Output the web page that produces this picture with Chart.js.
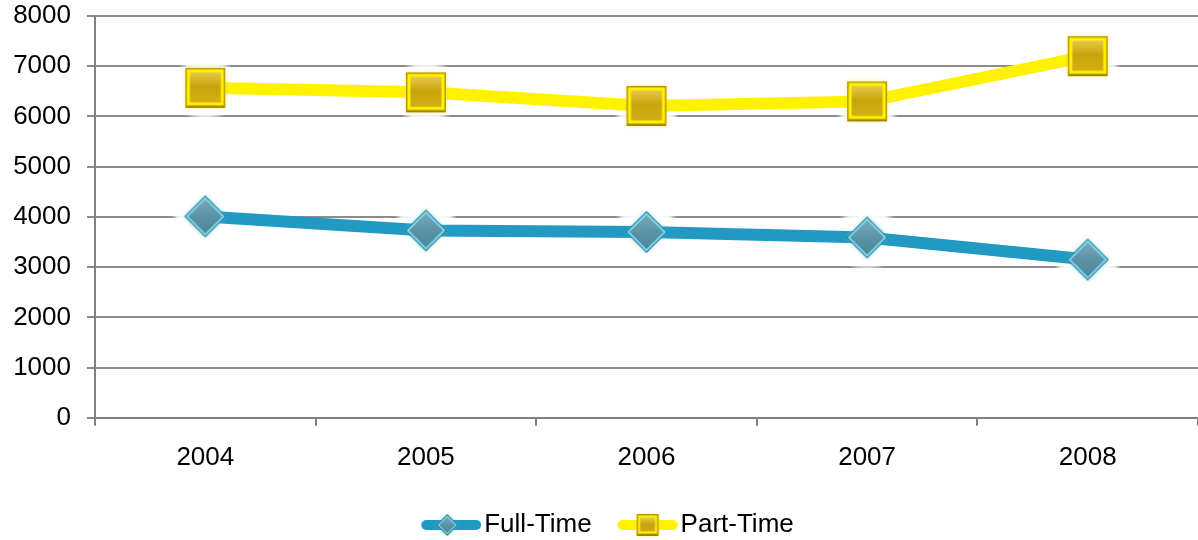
<!DOCTYPE html>
<html>
<head>
<meta charset="utf-8">
<script src="https://cdn.jsdelivr.net/npm/chart.js@4"></script>
<style>
  html, body { margin: 0; padding: 0; background: #ffffff; }
  #wrap { width: 1198px; height: 540px; position: relative; }
</style>
</head>
<body>
<div id="wrap"><canvas id="c"></canvas></div>
<script>
const years = ['2004', '2005', '2006', '2007', '2008'];
const fullTime = [4010, 3730, 3700, 3590, 3150];
const partTime = [6570, 6480, 6210, 6300, 7200];
const yTicks = [0, 1000, 2000, 3000, 4000, 5000, 6000, 7000, 8000];

const FONT = '"Liberation Sans", Arial, sans-serif';
const BLUE = '#2199c3';
const YELLOW = '#fff200';

function makeDiamond(withLine) {
  const w = withLine ? 87 : 48, h = 48;
  const c = document.createElement('canvas');
  c.width = w; c.height = h;
  const g = c.getContext('2d');
  const cx = withLine ? 53 : 24, cy = 24, r = withLine ? 11 : 21;
  if (withLine) {
    g.strokeStyle = BLUE; g.lineWidth = 10; g.lineCap = 'round';
    g.beginPath(); g.moveTo(32, cy); g.lineTo(82, cy); g.stroke();
  }
  g.save();
  g.shadowColor = 'rgba(90,200,230,0.55)'; g.shadowBlur = 4;
  g.beginPath();
  g.moveTo(cx, cy - r); g.lineTo(cx + r, cy); g.lineTo(cx, cy + r); g.lineTo(cx - r, cy); g.closePath();
  g.fillStyle = '#2d7c92'; g.fill();
  g.restore();
  const r2 = r - 1.5;
  g.beginPath();
  g.moveTo(cx, cy - r2); g.lineTo(cx + r2, cy); g.lineTo(cx, cy + r2); g.lineTo(cx - r2, cy); g.closePath();
  g.fillStyle = '#7fdcf2'; g.fill();
  const r3 = withLine ? r - 3 : r - 4;
  const grad = g.createLinearGradient(0, cy - r3, 0, cy + r3);
  grad.addColorStop(0, '#7aa9b9');
  grad.addColorStop(0.5, '#5a93a6');
  grad.addColorStop(1, '#4e8799');
  g.beginPath();
  g.moveTo(cx, cy - r3); g.lineTo(cx + r3, cy); g.lineTo(cx, cy + r3); g.lineTo(cx - r3, cy); g.closePath();
  g.fillStyle = grad; g.fill();
  return c;
}

function makeSquare(withLine) {
  const w = withLine ? 87 : 48, h = 48;
  const c = document.createElement('canvas');
  c.width = w; c.height = h;
  const g = c.getContext('2d');
  const cx = withLine ? 57 : 24, cy = 24, s = withLine ? 11 : 20;
  if (withLine) {
    g.strokeStyle = YELLOW; g.lineWidth = 10; g.lineCap = 'round';
    g.beginPath(); g.moveTo(32, cy); g.lineTo(82, cy); g.stroke();
  }
  g.save();
  g.shadowColor = 'rgba(255,225,80,0.6)'; g.shadowBlur = 4;
  g.fillStyle = '#b99800';
  g.fillRect(cx - s, cy - s, 2 * s, 2 * s);
  g.restore();
  g.fillStyle = YELLOW;
  g.fillRect(cx - s + 1.5, cy - s + 1.5, 2 * s - 3, 2 * s - 4);
  const i = withLine ? 3.5 : 4.5;
  const grad = g.createLinearGradient(0, cy - s + i, 0, cy + s - i);
  grad.addColorStop(0, '#e6c84a');
  grad.addColorStop(0.45, '#c9a50c');
  grad.addColorStop(1, '#d2ae18');
  g.fillStyle = grad;
  g.fillRect(cx - s + i, cy - s + i, 2 * s - 2 * i, 2 * s - 2 * i - 1);
  g.fillStyle = 'rgba(140,110,0,0.6)';
  g.fillRect(cx - s + 1, cy + s - 1.5, 2 * s - 2, 1.5);
  return c;
}

const diamondImg = makeDiamond(false);
const squareImg = makeSquare(false);
const diamondLegend = makeDiamond(true);
const squareLegend = makeSquare(true);

const haloPlugin = {
  id: 'halo',
  beforeDatasetsDraw(chart) {
    const ctx = chart.ctx;
    chart.data.datasets.forEach((ds, i) => {
      const meta = chart.getDatasetMeta(i);
      meta.data.forEach(pt => {
        const grd = ctx.createRadialGradient(pt.x, pt.y, 18, pt.x, pt.y, 34);
        grd.addColorStop(0, 'rgba(255,255,255,1)');
        grd.addColorStop(0.6, 'rgba(255,255,255,0.85)');
        grd.addColorStop(1, 'rgba(255,255,255,0)');
        ctx.save();
        ctx.fillStyle = grd;
        ctx.beginPath(); ctx.arc(pt.x, pt.y, 34, 0, Math.PI * 2); ctx.fill();
        ctx.restore();
      });
    });
  }
};

new Chart(document.getElementById('c'), {
  type: 'line',
  data: {
    labels: years,
    datasets: [
      {
        label: 'Full-Time',
        data: fullTime,
        borderColor: BLUE,
        backgroundColor: BLUE,
        borderWidth: 12,
        pointStyle: diamondImg,
        pointRadius: 21,
        pointHoverRadius: 21,
        tension: 0,
        fill: false,
        clip: false
      },
      {
        label: 'Part-Time',
        data: partTime,
        borderColor: YELLOW,
        backgroundColor: YELLOW,
        borderWidth: 12,
        pointStyle: squareImg,
        pointRadius: 21,
        pointHoverRadius: 21,
        tension: 0,
        fill: false,
        clip: false
      }
    ]
  },
  options: {
    responsive: true,
    maintainAspectRatio: false,
    animation: false,
    events: [],
    layout: { autoPadding: false, padding: { top: 2, right: 0, bottom: -8, left: 0 } },
    plugins: {
      tooltip: { enabled: false },
      legend: {
        position: 'bottom',
        labels: {
          usePointStyle: true,
          pointStyleWidth: 67,
          padding: 9,
          color: '#000000',
          font: { family: FONT, size: 26 },
          generateLabels(chart) {
            return chart.data.datasets.map((ds, i) => ({
              text: ds.label,
              pointStyle: i === 0 ? diamondLegend : squareLegend,
              fillStyle: ds.borderColor,
              strokeStyle: ds.borderColor,
              lineWidth: 0,
              hidden: false,
              datasetIndex: i,
              fontColor: '#000000'
            }));
          }
        }
      }
    },
    scales: {
      x: {
        type: 'category',
        offset: true,
        afterFit(scale) { scale.height += 14; },
        grid: {
          offset: true,
          drawOnChartArea: false,
          drawTicks: true,
          tickLength: 8,
          color: '#808080',
          lineWidth: 2
        },
        border: { display: true, color: '#808080', width: 2 },
        ticks: {
          color: '#000000',
          font: { family: FONT, size: 26 },
          padding: 16,
          maxRotation: 0
        }
      },
      y: {
        min: 0,
        max: 8000,
        afterBuildTicks(scale) {
          scale.ticks = yTicks.map(v => ({ value: v }));
        },
        afterFit(scale) {
          scale.width = 95;
          scale.paddingTop = 16;
          scale.paddingBottom = 0;
        },
        grid: {
          color: '#8c8c8c',
          lineWidth: 2,
          drawTicks: true,
          tickLength: 8
        },
        border: { display: true, color: '#808080', width: 2 },
        ticks: {
          color: '#000000',
          font: { family: FONT, size: 26 },
          padding: 16,
          callback: (v) => String(v)
        }
      }
    }
  },
  plugins: [haloPlugin]
});
</script>
</body>
</html>
